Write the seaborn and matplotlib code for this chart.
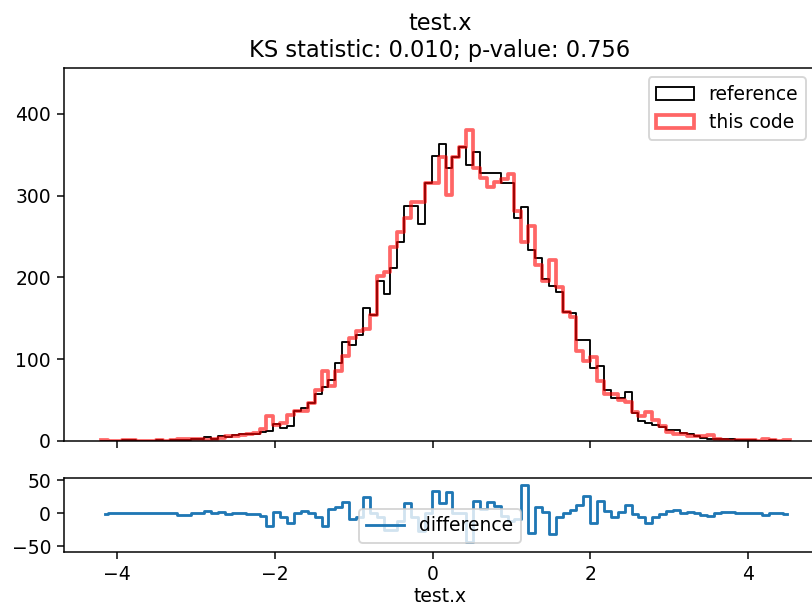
import numpy as np
import seaborn as sns
import matplotlib.pyplot as plt
from matplotlib.patches import Patch

# histogram binning (100 bins)
x_lo, x_hi, n_bins = -4.20, 4.53, 100

# counts per bin, "reference" (black outline)
ref_counts = [
    0, 0, 0, 1, 1, 0, 0, 0, 1, 0,
    1, 1, 1, 2, 2, 5, 3, 6, 5, 7,
    8, 8, 9, 11, 12, 21, 16, 18, 37, 40,
    47, 57, 66, 74, 95, 121, 117, 129, 162, 154,
    196, 180, 211, 243, 287, 287, 265, 316, 349, 363,
    334, 347, 360, 337, 353, 328, 328, 328, 316, 316,
    273, 286, 233, 224, 198, 190, 182, 158, 156, 123,
    124, 89, 92, 62, 52, 52, 60, 34, 24, 22,
    20, 17, 14, 13, 10, 8, 6, 4, 3, 3,
    3, 2, 1, 1, 1, 0, 0, 1, 0, 0,
]

# counts per bin, "this code" (red outline)
new_counts = [
    1, 0, 0, 1, 1, 0, 0, 0, 1, 0,
    1, 3, 3, 2, 2, 1, 3, 4, 6, 6,
    7, 9, 10, 15, 31, 19, 22, 32, 37, 37,
    47, 62, 85, 67, 86, 104, 126, 135, 137, 154,
    202, 206, 237, 255, 272, 292, 292, 315, 315, 347,
    301, 347, 359, 380, 334, 322, 311, 317, 320, 327,
    281, 243, 263, 215, 196, 221, 188, 158, 151, 110,
    98, 103, 73, 58, 58, 50, 48, 35, 30, 36,
    26, 18, 11, 8, 9, 6, 6, 6, 7, 3,
    1, 0, 1, 1, 1, 0, 2, 1, 0, 1,
]

title = "test.x\nKS statistic: 0.010; p-value: 0.756"
var_name = "test.x"

edges = np.linspace(x_lo, x_hi, n_bins + 1)
centers = 0.5 * (edges[:-1] + edges[1:])
ref = np.array(ref_counts)
new = np.array(new_counts)
diff = ref - new

dpi = 135
fig = plt.figure(figsize=(812 / dpi, 607 / dpi), dpi=dpi)
ax = fig.add_axes([0.079, 0.2735, 0.925, 0.6145])
ax_d = fig.add_axes([0.079, 0.0902, 0.925, 0.1229], sharex=ax)

sns.histplot(x=centers, weights=ref, bins=list(edges), element="step", fill=False,
             color="black", linewidth=1, ax=ax)
sns.histplot(x=centers, weights=new, bins=list(edges), element="step", fill=False,
             color="red", alpha=0.6, linewidth=2, ax=ax)
ax.set_ylim(0, 1.2 * new.max())
ax.set_xlim(-4.668, 4.85)
ax.set_ylabel("")
ax.set_xlabel("")
ax.set_yticks([0, 100, 200, 300, 400])
ax.tick_params(labelbottom=False)
ax.set_title(title, fontsize=12)
handles = [Patch(facecolor="none", edgecolor="black", linewidth=1),
           Patch(facecolor="none", edgecolor="red", alpha=0.6, linewidth=2)]
ax.legend(handles, ["reference", "this code"], loc="upper right")

sns.lineplot(x=centers, y=diff, drawstyle="steps-mid", color="C0",
             linewidth=1.5, label="difference", ax=ax_d)
ax_d.set_ylim(-59, 54)
ax_d.set_yticks([-50, 0, 50])
ax_d.set_xticks([-4, -2, 0, 2, 4])
ax_d.set_xlabel(var_name, labelpad=1.5)
ax_d.set_ylabel("")
ax_d.legend(loc="lower center")

fig.savefig("out.png", dpi=dpi)
